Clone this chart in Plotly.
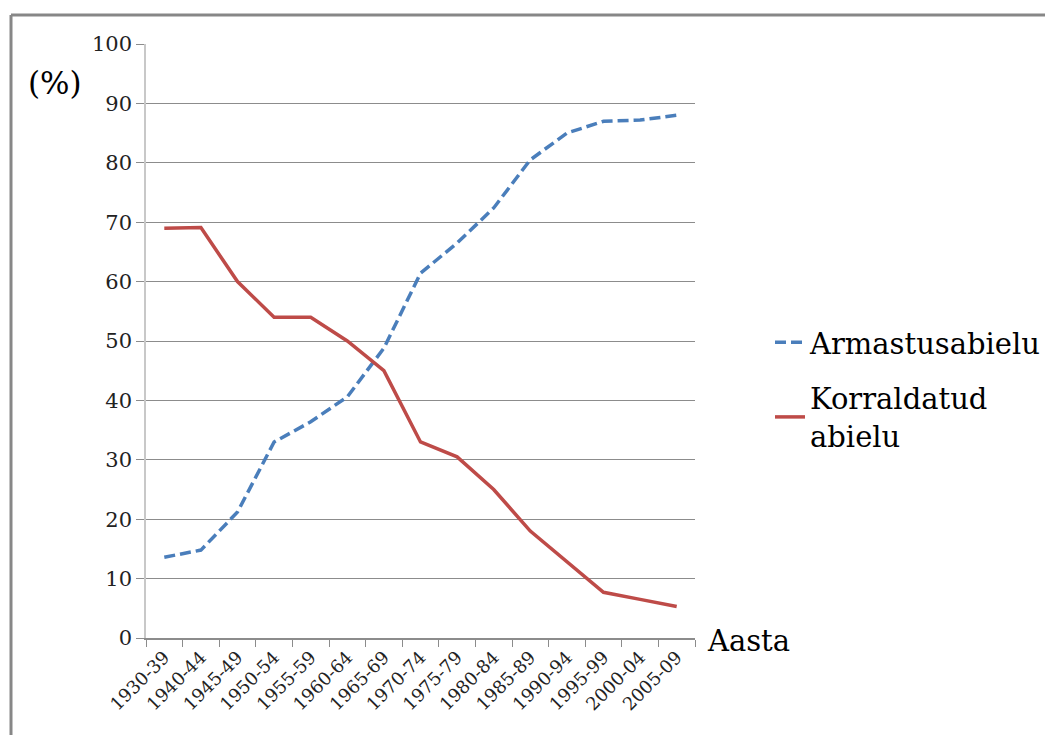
import plotly.graph_objects as go

periods = ["1930-39", "1940-44", "1945-49", "1950-54", "1955-59", "1960-64", "1965-69",
           "1970-74", "1975-79", "1980-84", "1985-89", "1990-94", "1995-99", "2000-04", "2005-09"]
armastus = [13.6, 14.8, 21.2, 33.0, 36.4, 40.6, 48.8, 61.4, 66.5, 72.4, 80.5, 85.0, 87.0, 87.2, 88.0]
korraldatud = [69.0, 69.1, 60.0, 54.0, 54.0, 50.0, 45.0, 33.0, 30.5, 25.0, 18.0, 12.8, 7.7, 6.5, 5.3]
y_ticks = [0, 10, 20, 30, 40, 50, 60, 70, 80, 90, 100]

SERIF = "DejaVu Serif"

fig = go.Figure()
fig.add_trace(go.Scatter(x=periods, y=armastus, mode="lines", name="Armastusabielu", legendgroup="a",
                         line=dict(color="#4a7ebb", width=3.5, dash="11px,5px")))
fig.add_trace(go.Scatter(x=periods, y=korraldatud, mode="lines", name="Korraldatud<br>abielu", legendgroup="b",
                         line=dict(color="#be4b48", width=3.5)))

OFF = 8  # page body margin
W, H = 1053 - OFF, 735 - OFF
L, R, T, B = 146 - OFF, 695 - OFF, 44 - OFF, 638 - OFF


def px(x):
    return (x - OFF - L) / (R - L)


def py(y):
    return (B - (y - OFF)) / (B - T)


fig.update_layout(
    width=W, height=H,
    margin=dict(l=L, r=W - R, t=T, b=H - B, autoexpand=False),
    paper_bgcolor="white", plot_bgcolor="white",
    font=dict(family=SERIF, color="#000000"),
    showlegend=True,
    legend=dict(x=px(770), y=py(317), xanchor="left", yanchor="top",
                font=dict(size=29, family=SERIF, color="#000000"),
                bgcolor="rgba(0,0,0,0)", tracegroupgap=15),
    xaxis=dict(
        type="category", tickangle=-45, tickson="boundaries", ticks="outside", ticklen=7,
        tickcolor="#8c8c8c", showline=True, linecolor="#8c8c8c", linewidth=1.5,
        showgrid=False, tickfont=dict(size=18, family=SERIF, color="#222222"),
        range=[-0.5, len(periods) - 0.5], automargin=False, zeroline=False,
    ),
    yaxis=dict(
        range=[0, 100], tickvals=y_ticks, ticks="outside", ticklen=8, tickcolor="#8c8c8c",
        showline=True, linecolor="#c8c8c8", linewidth=1.5,
        showgrid=True, gridcolor="#8c8c8c", gridwidth=1.3, zeroline=False,
        tickfont=dict(size=21, family=SERIF, color="#222222"), automargin=False,
    ),
)

fig.add_annotation(text="(%)", xref="paper", yref="paper", x=px(55), y=py(83),
                   showarrow=False, font=dict(size=31, family=SERIF, color="#000000"),
                   xanchor="center", yanchor="middle")
fig.add_annotation(text="Aasta", xref="paper", yref="paper", x=px(705), y=py(641),
                   showarrow=False, font=dict(size=29, family=SERIF, color="#000000"),
                   xanchor="left", yanchor="middle")

# outer frame (top and left edges)
fig.add_shape(type="line", xref="paper", yref="paper", x0=px(11), x1=px(1070), y0=py(15), y1=py(15),
              line=dict(color="#878787", width=3))
fig.add_shape(type="line", xref="paper", yref="paper", x0=px(11), x1=px(11), y0=py(15), y1=py(760),
              line=dict(color="#878787", width=3))

fig.write_html("out.html")
